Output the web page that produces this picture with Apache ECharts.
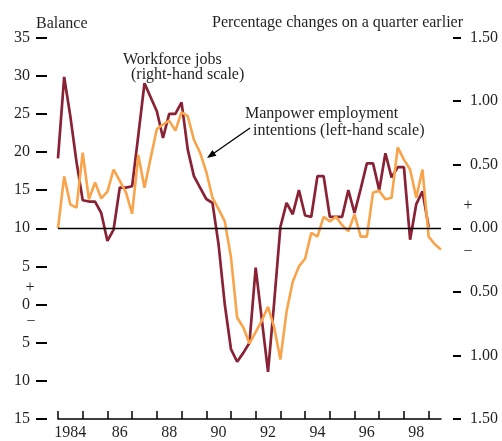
<!DOCTYPE html>
<html>
<head>
<meta charset="utf-8">
<script src="https://cdn.jsdelivr.net/npm/echarts@6/dist/echarts.min.js"></script>
<style>
  html, body { margin: 0; padding: 0; background: #fff; }
  #jobsChart { width: 502px; height: 441px; }
</style>
</head>
<body>
<div id="jobsChart"></div>
<script>
// quarterly data, 1984 Q1 onwards
var years = [1984, 1985, 1986, 1987, 1988, 1989, 1990, 1991, 1992, 1993, 1994, 1995, 1996, 1997, 1998, 1999];
var lastQuarter = 62; // 1999 Q3

// Manpower employment intentions, balance (left-hand scale)
var manpower = [10.0, 16.8, 13.1, 12.7, 19.9, 13.8, 16.0, 13.9, 14.8, 17.7,
    16.2, 14.7, 11.9, 19.6, 15.3, 19.2, 23.0, 23.6, 24.1, 22.8,
    25.2, 24.7, 21.6, 19.9, 17.4, 14.0, 12.5, 10.9, 6.2, -1.7,
    -3.0, -5.1, -3.6, -2.1, -0.3, -3.0, -7.2, -0.9, 3.0, 5.0,
    6.0, 9.4, 8.9, 11.5, 10.9, 11.5, 10.4, 9.6, 11.8, 8.9,
    8.9, 14.7, 14.9, 13.8, 14.0, 20.6, 19.0, 17.7, 14.0, 17.7,
    8.9, 7.9, 7.2];

// Workforce jobs, % change on a quarter earlier (right-hand scale)
var workforceJobs = [0.55, 1.19, 0.88, 0.52, 0.22, 0.21, 0.21, 0.12, -0.10, -0.01,
    0.32, 0.32, 0.33, 0.73, 1.14, 1.03, 0.92, 0.71, 0.90, 0.90,
    0.99, 0.62, 0.41, 0.32, 0.23, 0.20, -0.13, -0.60, -0.95, -1.05,
    -0.98, -0.90, -0.31, -0.72, -1.13, -0.58, 0.01, 0.20, 0.11, 0.30,
    0.10, 0.09, 0.41, 0.41, 0.09, 0.09, 0.09, 0.30, 0.12, 0.31,
    0.51, 0.51, 0.30, 0.59, 0.40, 0.48, 0.48, -0.09, 0.19, 0.29,
    0.01];

var quarters = [];
years.forEach(function (y) {
    for (var q = 1; q <= 4; q++) {
        quarters.push(y + ' Q' + q);
    }
});
quarters = quarters.slice(0, lastQuarter + 1);

var serif = '"Liberation Serif", "DejaVu Serif", serif';
var ink = '#231f20';
var redColor = '#8a2236';
var orangeColor = '#f9a44a';

var dom = document.getElementById('jobsChart');
var myChart = echarts.init(dom);

function txt(text, x, y, align) {
    return {
        type: 'text',
        x: x,
        y: y,
        silent: true,
        style: {
            text: text,
            fill: ink,
            fontFamily: serif,
            fontSize: 16,
            align: align || 'left',
            verticalAlign: 'middle'
        }
    };
}

var option = {
    animation: false,
    backgroundColor: '#fff',
    grid: {
        left: 58,
        right: 61,
        top: 37.5,
        bottom: 21
    },
    xAxis: {
        type: 'category',
        data: quarters,
        boundaryGap: false,
        axisLine: { onZero: false, lineStyle: { color: '#000', width: 1.5 } },
        axisTick: {
            inside: true,
            length: 8,
            lineStyle: { color: '#000', width: 1.5 },
            interval: function (index) { return index % 4 === 0; }
        },
        axisLabel: {
            interval: function (index) { return index % 8 === 2; },
            formatter: function (value, index) {
                var y = value.slice(0, 4);
                return index === 2 ? y : y.slice(2);
            },
            margin: 6,
            color: ink,
            fontFamily: serif,
            fontSize: 16
        },
        splitLine: { show: false }
    },
    yAxis: [{
        type: 'value',
        position: 'left',
        offset: 11,
        min: -15,
        max: 35,
        interval: 5,
        axisLine: { show: false },
        axisTick: { show: true, length: 11, lineStyle: { color: '#000', width: 2 } },
        axisLabel: {
            margin: 17,
            color: ink,
            fontFamily: serif,
            fontSize: 16,
            formatter: function (v) { return Math.abs(v); }
        },
        splitLine: { show: false }
    }, {
        type: 'value',
        position: 'right',
        offset: 12,
        min: -1.5,
        max: 1.5,
        interval: 0.5,
        axisLine: { show: false },
        axisTick: { show: true, length: 8, lineStyle: { color: '#000', width: 2 } },
        axisLabel: {
            margin: 17,
            color: ink,
            fontFamily: serif,
            fontSize: 16,
            formatter: function (v) { return Math.abs(v).toFixed(2); }
        },
        splitLine: { show: false }
    }],
    series: [{
        name: 'Workforce jobs',
        type: 'line',
        yAxisIndex: 1,
        data: workforceJobs,
        symbol: 'none',
        lineStyle: { color: redColor, width: 2.7 },
        z: 3
    }, {
        name: 'Manpower employment intentions',
        type: 'line',
        yAxisIndex: 0,
        data: manpower,
        symbol: 'none',
        lineStyle: { color: orangeColor, width: 2.6 },
        z: 4,
        markLine: {
            silent: true,
            symbol: ['none', 'none'],
            label: { show: false },
            lineStyle: { color: '#000', width: 1.3, type: 'solid' },
            data: [{ yAxis: 10 }]
        }
    }],
    graphic: [
        txt('Balance', 36, 24),
        txt('Percentage changes on a quarter earlier', 463, 23, 'right'),
        txt('Workforce jobs', 123, 60),
        txt('(right-hand scale)', 131, 75),
        txt('Manpower employment', 245, 114),
        txt('intentions (left-hand scale)', 253, 131),
        txt('+', 468, 206, 'center'),
        txt('\u2212', 468, 252, 'center'),
        txt('+', 30, 288, 'center'),
        txt('\u2212', 31, 322, 'center'),
        {
            type: 'line',
            silent: true,
            shape: { x1: 250, y1: 128, x2: 212, y2: 154.5 },
            style: { stroke: '#000', lineWidth: 1.3 }
        },
        {
            type: 'polygon',
            silent: true,
            shape: { points: [[207, 158], [216.4, 155.7], [212.4, 149.9]] },
            style: { fill: '#000' }
        }
    ]
};

if (option && typeof option === 'object') {
    myChart.setOption(option, true);
}

window.addEventListener('resize', function () {
    myChart.resize();
});
</script>
</body>
</html>
